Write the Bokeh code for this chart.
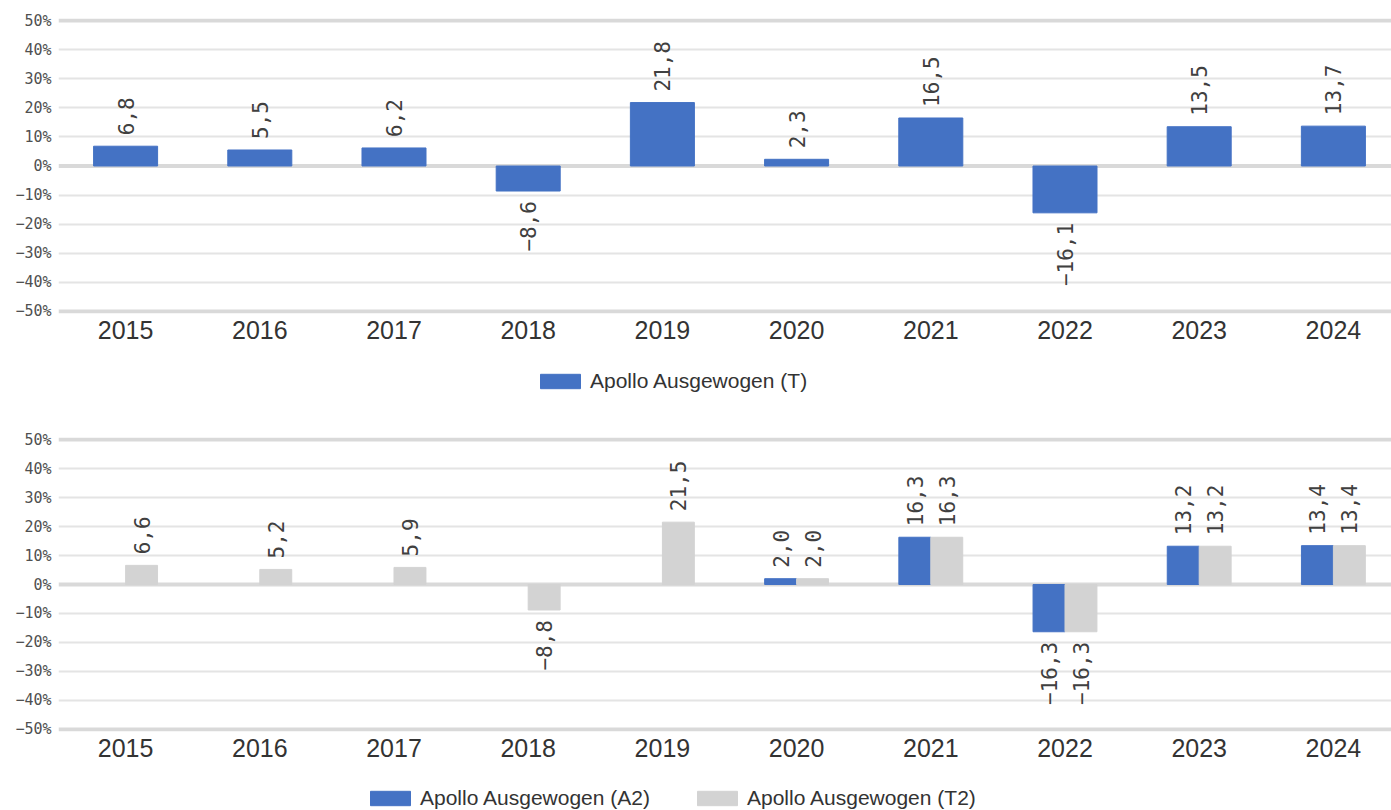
import math
from bokeh.plotting import figure
from bokeh.layouts import column
from bokeh.models import (Range1d, FixedTicker, Span, Legend, LegendItem,
                          ColumnDataSource)
from bokeh.transform import dodge
from bokeh.core.properties import value
from bokeh.embed import file_html
from bokeh.resources import INLINE

years = ["2015", "2016", "2017", "2018", "2019", "2020", "2021", "2022", "2023", "2024"]
series_t = [6.8, 5.5, 6.2, -8.6, 21.8, 2.3, 16.5, -16.1, 13.5, 13.7]
series_a2 = [None, None, None, None, None, 2.0, 16.3, -16.3, 13.2, 13.4]
series_t2 = [6.6, 5.2, 5.9, -8.8, 21.5, 2.0, 16.3, -16.3, 13.2, 13.4]
y_ticks = [-50, -40, -30, -20, -10, 0, 10, 20, 30, 40, 50]

name_t = "Apollo Ausgewogen (T)"
name_a2 = "Apollo Ausgewogen (A2)"
name_t2 = "Apollo Ausgewogen (T2)"

BLUE = "#4472C4"
GRAY = "#D3D3D3"
LABEL_FONT = "DejaVu Sans Mono"
W = 1391
MINUS = "\u2212"


def fmt(v):
    return f"{v:.1f}".replace(".", ",").replace("-", MINUS)


def make_fig(height, top_border, bottom_border):
    p = figure(width=W, height=height, x_range=Range1d(-0.5, 9.433),
               y_range=Range1d(-50.7, 50.7), output_backend="svg", toolbar_location=None,
               min_border_left=58, min_border_right=0, min_border_top=top_border,
               min_border_bottom=bottom_border)
    p.outline_line_color = None
    p.background_fill_color = "white"
    p.xgrid.grid_line_color = None
    p.ygrid.ticker = FixedTicker(ticks=[t for t in y_ticks if t not in (-50, 0, 50)])
    p.ygrid.grid_line_color = "#e4e4e4"
    p.ygrid.grid_line_width = 2
    for yv in (-50, 0, 50):
        p.add_layout(Span(location=yv, dimension="width", line_color="#d9d9d9",
                          line_width=4, level="underlay"))
    p.xaxis.ticker = FixedTicker(ticks=list(range(len(years))))
    p.xaxis.major_label_overrides = {i: y for i, y in enumerate(years)}
    p.xaxis.axis_line_color = None
    p.xaxis.major_tick_line_color = None
    p.xaxis.minor_tick_line_color = None
    p.xaxis.major_label_standoff = 1
    p.xaxis.major_label_text_font = "Liberation Sans"
    p.xaxis.major_label_text_font_size = "25px"
    p.xaxis.major_label_text_color = "#333333"
    p.yaxis.ticker = FixedTicker(ticks=y_ticks)
    p.yaxis.major_label_overrides = {t: f"{t}%".replace("-", MINUS) for t in y_ticks}
    p.yaxis.axis_line_color = None
    p.yaxis.major_tick_line_color = None
    p.yaxis.minor_tick_line_color = None
    p.yaxis.major_label_standoff = 1
    p.yaxis.major_label_text_font = LABEL_FONT
    p.yaxis.major_label_text_font_size = "15px"
    p.yaxis.major_label_text_color = "#505050"
    return p


def add_labels(p, xs, vals):
    pos = {"x": [], "y": [], "t": []}
    neg = {"x": [], "y": [], "t": []}
    for x, v in zip(xs, vals):
        if v is None:
            continue
        d = pos if v >= 0 else neg
        d["x"].append(x)
        d["y"].append(v)
        d["t"].append(fmt(v))
    common = dict(text="t", angle=math.pi / 2, text_font=value(LABEL_FONT),
                  text_font_size="21px", text_color="#404040", text_baseline="middle")
    p.text(x="x", y="y", source=ColumnDataSource(pos), text_align="left",
           y_offset=-11, **common)
    p.text(x="x", y="y", source=ColumnDataSource(neg), text_align="right",
           y_offset=10, **common)


def legend_fig(height, entries, loc):
    """A strip holding only the legend; its renderers are hidden copies of the bars."""
    f = figure(width=W, height=height, x_range=Range1d(0, 1), y_range=Range1d(0, 1),
               output_backend="svg", toolbar_location=None,
               x_axis_location=None, y_axis_location=None,
               min_border_left=0, min_border_right=0, min_border_top=0,
               min_border_bottom=0)
    f.outline_line_color = None
    f.xgrid.visible = False
    f.ygrid.visible = False
    items = []
    for label, src, col, color in entries:
        r = f.vbar(x="x", top=col, bottom=0, width=0.1, source=src,
                   fill_color=color, line_color=color, visible=False)
        items.append(LegendItem(label=label, renderers=[r]))
    lg = Legend(items=items, orientation="horizontal", location=loc,
                glyph_width=50, glyph_height=18, label_height=20,
                label_text_font="Liberation Sans", label_text_font_size="21px",
                label_text_color="#333333", label_standoff=5, spacing=42,
                padding=0, margin=0, border_line_color=None,
                background_fill_alpha=0)
    f.add_layout(lg, "center")
    return f


idx = list(range(len(years)))

# --- top chart
p1 = make_fig(345, 18, 32)
src1 = ColumnDataSource(dict(x=idx, v=series_t))
p1.vbar(x="x", top="v", bottom=0, width=0.477, source=src1,
        fill_color=BLUE, line_color=BLUE)
add_labels(p1, idx, series_t)
leg1 = legend_fig(75, [(name_t, src1, "v", BLUE)], (477, 27))

# --- bottom chart
p2 = make_fig(343, 17, 32)
a2_vals = [float("nan") if v is None else v for v in series_a2]
src2 = ColumnDataSource(dict(x=idx, a2=a2_vals, t2=series_t2))
off = 0.119
p2.vbar(x=dodge("x", -off, range=p2.x_range), top="a2", bottom=0, width=0.238,
        source=src2, fill_color=BLUE, line_color=BLUE)
p2.vbar(x=dodge("x", off, range=p2.x_range), top="t2", bottom=0, width=0.238,
        source=src2, fill_color=GRAY, line_color=GRAY)
add_labels(p2, [i - off for i in idx], series_a2)
add_labels(p2, [i + off for i in idx], series_t2)
leg2 = legend_fig(47, [(name_a2, src2, "a2", BLUE), (name_t2, src2, "t2", GRAY)],
                  (307, 0))

layout = column(p1, leg1, p2, leg2, spacing=0)
open("out.html", "w").write(file_html(layout, INLINE))
